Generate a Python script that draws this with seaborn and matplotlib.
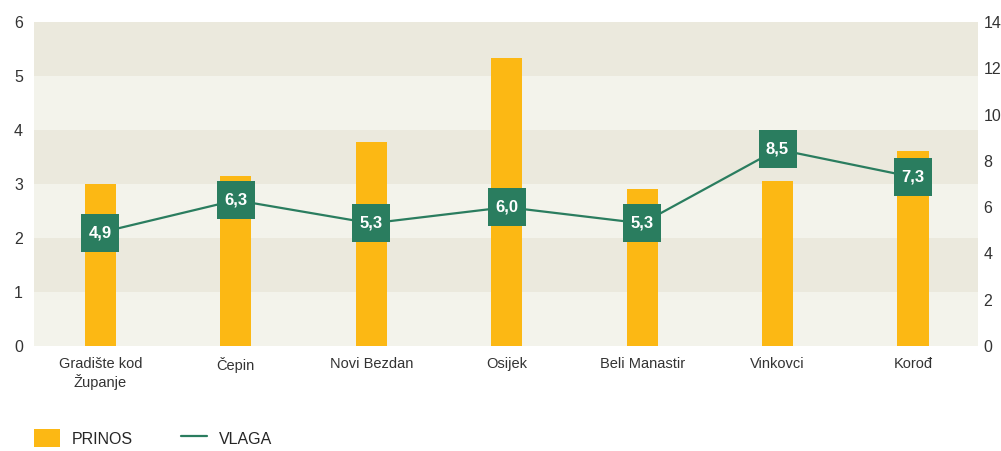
import numpy as np
import pandas as pd
import matplotlib
matplotlib.use("Agg")
import matplotlib.pyplot as plt
import seaborn as sns
from matplotlib.patches import Patch
from matplotlib.lines import Line2D

# Data
locations = ["Gradište kod\nŽupanje", "Čepin", "Novi Bezdan", "Osijek",
             "Beli Manastir", "Vinkovci", "Korođ"]
prinos = [3.0, 3.15, 3.78, 5.33, 2.91, 3.06, 3.61]
vlaga = [4.9, 6.3, 5.3, 6.0, 5.3, 8.5, 7.3]

BAR = "#FCB814"
GREEN = "#2A7D5F"
BAND_DARK = "#EBE9DD"
BAND_LIGHT = "#F3F3EB"
TXT = "#333333"

sns.set_theme(style="white")
plt.rcParams["font.family"] = ["Liberation Sans", "DejaVu Sans"]

df = pd.DataFrame({"lokacija": locations, "prinos": prinos, "vlaga": vlaga})
df["x"] = np.arange(len(df))

fig = plt.figure(figsize=(10.01, 4.51), dpi=100)
ax = fig.add_axes([0.034, 0.233, 0.943, 0.718])

# background bands
for i in range(6):
    ax.axhspan(i, i + 1, color=BAND_DARK if i % 2 else BAND_LIGHT, lw=0, zorder=0)

ax.bar(df["x"], df["prinos"], width=0.23, color=BAR, linewidth=0, zorder=2)
ax.set_xlim(-0.49, 6.48)
ax.set_ylim(0, 6)
ax.set_yticks(range(7))
ax.set_xticks(df["x"])
ax.set_xticklabels(df["lokacija"], fontsize=10.5, color=TXT)
ax.tick_params(axis="y", labelsize=11.5, colors=TXT, length=0, pad=8)
ax.tick_params(axis="x", length=0, pad=8)
for s in ax.spines.values():
    s.set_visible(False)

ax2 = ax.twinx()
sns.lineplot(data=df, x="x", y="vlaga", ax=ax2, color=GREEN, lw=1.6,
             marker="s", markersize=27, markeredgewidth=0, zorder=3)
for xi, v in zip(df["x"], df["vlaga"]):
    ax2.text(xi, v, f"{v:.1f}".replace(".", ","), ha="center", va="center",
             color="white", fontsize=12, fontweight="bold", zorder=4)
ax2.set_ylim(0, 14)
ax2.set_yticks(range(0, 15, 2))
ax2.set_ylabel("")
ax2.set_xlabel("")
ax2.tick_params(axis="y", labelsize=11.5, colors=TXT, length=0, pad=4)
for s in ax2.spines.values():
    s.set_visible(False)
ax.set_xlabel("")
ax.set_ylabel("")

handles = [Patch(facecolor=BAR, edgecolor="none"),
           Line2D([0], [0], color=GREEN, lw=1.6)]
fig.legend(handles, ["PRINOS", "VLAGA"], loc="lower left",
           bbox_to_anchor=(0.028, -0.005), borderaxespad=0, ncol=2,
           frameon=False, fontsize=11.5, handlelength=1.6, handleheight=1.3,
           columnspacing=3.0, handletextpad=0.75)

fig.savefig("out.png", dpi=100)
